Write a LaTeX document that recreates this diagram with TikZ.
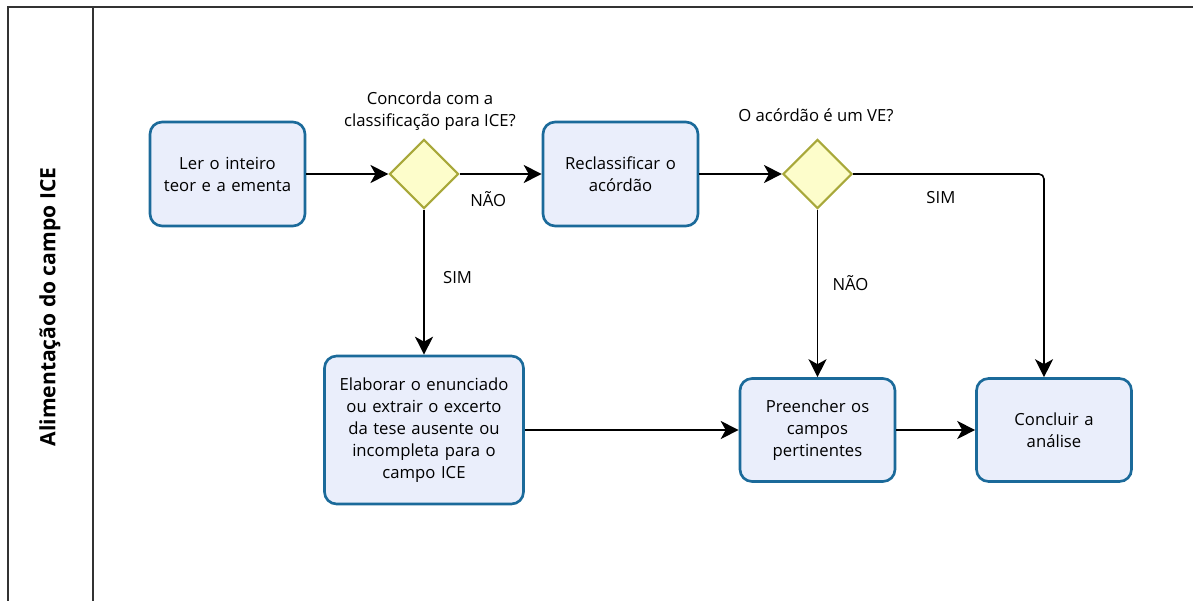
\documentclass[tikz,border=0pt]{standalone}
\usepackage{fontspec}
\setmainfont{Open Sans}
\usetikzlibrary{shapes.geometric,arrows.meta}

\definecolor{taskfill}{HTML}{EAEEFB}
\definecolor{taskline}{HTML}{1B6A9A}
\definecolor{gatefill}{HTML}{FDFDCB}
\definecolor{gateline}{HTML}{A8A83A}
\definecolor{laneline}{HTML}{333333}

\begin{document}
\begin{tikzpicture}[x=0.02cm, y=-0.02cm,
	task/.style={draw=taskline, fill=taskfill, line width=1.5pt, rounded corners=0.24cm,
		minimum width=3.1cm, minimum height=2.08cm, align=center, text width=2.8cm,
		font=\fontsize{9.5}{12.5}\selectfont},
	gate/.style={diamond, draw=gateline, fill=gatefill, line width=1.2pt,
		minimum width=1.38cm, minimum height=1.38cm, inner sep=0pt},
	flow/.style={-{Stealth[length=0.36cm, width=0.36cm, inset=0.1cm]}, line width=0.9pt},
	lbl/.style={font=\fontsize{9.5}{12.5}\selectfont}]
		\useasboundingbox (0,0) rectangle (1193,601);

		% pool and lane
		\draw[laneline, line width=1pt] (1193,7) -- (8,7) -- (8,601);
		\draw[laneline, line width=1pt] (93,7) -- (93,601);
		\node (lane) at (50,307) [rotate=90, font=\fontsize{12}{14}\selectfont\bfseries] {Alimentação do campo ICE};

		\node[task] (ler) at (227.5,174) {Ler o inteiro\\teor e a ementa};
		\node[gate] (d1) at (424,174) {};
		\node[lbl, align=center] (q1) at (430,111) {Concorda com a\\classificação para ICE?};
		\node[task] (recl) at (620.5,174) {Reclassificar o\\acórdão};
		\node[gate] (d2) at (817.5,174) {};
		\node[lbl] (q2) at (816,115) {O acórdão é um VE?};

		\node[task, minimum width=3.98cm, minimum height=2.96cm, text width=3.7cm] (elab) at (424,430)
			{Elaborar o enunciado\\ou extrair o excerto\\da tese ausente ou\\incompleta para o\\campo ICE};
		\node[task, minimum height=2.06cm] (pree) at (817.5,430) {Preencher os\\campos\\pertinentes};
		\node[task, minimum height=2.06cm] (conc) at (1054,430) {Concluir a\\análise};

		\coordinate (k) at (1044,174);

		\draw[flow] (ler) -- (d1);
		\draw[flow] (d1) -- node[lbl, pos=0.35, below=0.22cm] {NÃO} (recl);
		\draw[flow] (d1) -- node[lbl, pos=0.47, right=0.25cm] {SIM} (elab);
		\draw[flow] (recl) -- (d2);
		\draw[flow] (d2) -- node[lbl, pos=0.44, right=0.17cm] {NÃO} (pree);
		\draw[flow, rounded corners=0.1cm] (d2.east) -- node[lbl, pos=0.46, below=0.22cm] {SIM} (k) -- (k |- conc.north);
		\draw[flow] (elab) -- (pree);
		\draw[flow] (pree) -- (conc);
	\end{tikzpicture}
\end{document}
